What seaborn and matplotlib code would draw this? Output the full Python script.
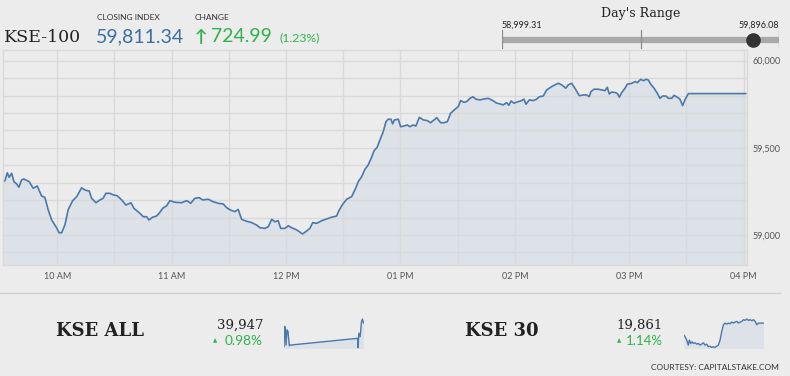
import matplotlib
matplotlib.use("Agg")
import matplotlib.pyplot as plt
import seaborn as sns
import pandas as pd
from matplotlib.ticker import FixedLocator, MultipleLocator, FuncFormatter

# KSE-100 intraday, minutes after 09:00
minutes = [30.8, 32.6, 33.8, 34.8, 36.1, 37.3, 38.7, 39.9, 41.3, 42.5, 45.3, 47.4, 49.5, 51.8, 53.5,
           55.3, 57.1, 59.3, 61.0, 62.3, 64.0, 65.8, 68.1, 70.2, 72.8, 74.5, 76.8, 78.0, 80.3, 82.4,
           84.1, 85.5, 87.6, 89.4, 91.5, 93.8, 96.0, 98.7, 100.2, 103.0, 105.1, 106.9, 108.1, 110.0,
           112.1, 113.5, 115.3, 117.4, 119.1, 121.7, 125.2, 127.9, 130.0, 132.2, 134.5, 136.3, 139.2,
           141.8, 144.4, 147.1, 148.8, 150.9, 153.2, 154.9, 156.7, 159.0, 162.0, 164.6, 166.3, 168.9,
           170.7, 172.5, 174.2, 175.9, 177.2, 179.4, 181.2, 182.9, 185.6, 188.7, 190.8, 192.5, 194.0,
           196.1, 198.7, 201.3, 203.9, 206.5, 207.9, 209.7, 211.8, 214.4, 216.1, 217.9, 219.7, 221.4,
           223.1, 224.9, 226.1, 227.8, 229.6, 231.0, 232.4, 233.6, 235.0, 235.9, 236.8, 238.9, 240.1,
           241.8, 243.6, 245.0, 246.7, 248.1, 249.9, 252.0, 254.1, 255.8, 257.2, 259.0, 261.1, 262.8,
           264.6, 266.3, 268.6, 270.3, 271.6, 273.3, 274.7, 276.5, 277.9, 279.6, 281.7, 283.8, 286.1,
           288.4, 290.5, 292.2, 293.9, 295.7, 296.9, 298.0, 299.5, 301.8, 303.6, 304.8, 305.8, 307.6,
           309.7, 311.4, 312.8, 314.9, 316.7, 319.3, 321.0, 322.8, 324.6, 326.7, 328.0, 329.8, 331.5,
           333.8, 335.9, 337.7, 339.0, 339.9, 341.5, 343.8, 345.5, 347.3, 348.5, 349.5, 350.8, 353.0,
           353.9, 354.8, 356.0, 357.8, 359.0, 361.3, 363.1, 364.3, 366.0, 367.4, 368.8, 370.0, 371.2,
           373.0, 374.7, 376.1, 377.5, 379.3, 380.5, 382.3, 383.5, 385.2, 386.6, 388.0, 389.2, 391.0,
           421.2]
kse100 = [59300, 59312, 59357, 59331, 59354, 59306, 59293, 59274, 59316, 59321, 59306, 59268, 59281,
          59224, 59216, 59143, 59086, 59048, 59013, 59013, 59057, 59147, 59197, 59220, 59271, 59258,
          59252, 59211, 59185, 59201, 59211, 59239, 59239, 59230, 59225, 59201, 59172, 59185, 59153,
          59128, 59105, 59105, 59086, 59102, 59109, 59125, 59153, 59168, 59197, 59188, 59185, 59197,
          59182, 59211, 59214, 59201, 59205, 59191, 59182, 59178, 59157, 59143, 59134, 59147, 59090,
          59080, 59071, 59057, 59042, 59038, 59048, 59090, 59076, 59082, 59038, 59038, 59053, 59042,
          59029, 59006, 59023, 59038, 59071, 59067, 59082, 59092, 59102, 59109, 59143, 59176, 59205,
          59220, 59258, 59306, 59335, 59377, 59402, 59446, 59482, 59503, 59555, 59593, 59650, 59664,
          59664, 59637, 59660, 59664, 59621, 59625, 59631, 59621, 59631, 59625, 59675, 59660, 59656,
          59644, 59656, 59673, 59644, 59644, 59650, 59698, 59721, 59736, 59771, 59761, 59765, 59784,
          59793, 59779, 59775, 59780, 59784, 59771, 59756, 59752, 59746, 59759, 59744, 59769, 59756,
          59765, 59771, 59779, 59750, 59775, 59771, 59779, 59793, 59797, 59832, 59851, 59861, 59870,
          59861, 59842, 59861, 59870, 59842, 59799, 59803, 59803, 59793, 59822, 59836, 59836, 59832,
          59828, 59847, 59809, 59820, 59816, 59809, 59790, 59816, 59842, 59865, 59870, 59880, 59874,
          59893, 59885, 59893, 59889, 59866, 59842, 59813, 59784, 59797, 59797, 59784, 59784, 59801,
          59790, 59779, 59742, 59775, 59811, 59811]

hour_ticks = [60, 120, 180, 240, 300, 360, 420]
hour_labels = ["10 AM", "11 AM", "12 PM", "01 PM", "02 PM", "03 PM", "04 PM"]
price_ticks = [59000, 59500, 60000]

closing = 59811.34
change = 724.99
change_pct = 1.23
day_low = 58999.31
day_high = 59896.08

all_pos = [0, 2, 4, 6, 9, 12, 16, 18, 220, 222, 224, 228, 232, 235, 238]
all_vals = [5, 65, 60, 10, 55, 50, 8, 10, 30, 2, 45, 35, 80, 87, 75]
k30_pos = [0, 4, 8, 13, 16, 20, 24, 28, 33, 38, 43, 48, 53, 58, 63, 68, 73, 78, 83, 88, 93, 98,
           103, 108, 113, 118, 123, 128, 133, 138, 143, 148, 153, 158, 163, 168, 173, 178, 183,
           188, 193, 198, 203, 208, 213, 218, 223, 238]
k30_vals = [40, 33, 25, 10, 25, 15, 20, 15, 17, 13, 15, 10, 13, 17, 10, 13, 5, 7, 3, 5, 3, 7, 10,
            25, 50, 70, 75, 72, 75, 73, 78, 75, 78, 80, 75, 78, 80, 85, 83, 87, 83, 85, 82, 85, 80,
            70, 75, 75]

BG = "#ececec"
GRID = "#d9d9d9"
LINE = "#4a79ab"
FILL = "#dde2e9"
GREEN = "#2fb24c"
DARK = "#222222"

sns.set_theme(style="white", rc={"axes.facecolor": BG, "figure.facecolor": BG})
plt.rcParams["font.family"] = ["Lato", "DejaVu Sans"]
SERIF = ["DejaVu Serif"]

W, H = 790, 376
fig = plt.figure(figsize=(W / 100, H / 100), dpi=100)


def fx(x):
    return x / W


def fy(y):
    return 1 - y / H


def box(x0, y0, x1, y1):
    return [fx(x0), fy(y1), fx(x1) - fx(x0), fy(y0) - fy(y1)]


# main chart
ax = fig.add_axes(box(2.7, 50, 746.7, 265))
df = pd.DataFrame({"t": minutes, "v": kse100})
y_lo, y_hi = 58828, 60061
ax.fill_between(df["t"], df["v"], y_lo, color=FILL, lw=0, zorder=0.3)
sns.lineplot(data=df, x="t", y="v", ax=ax, color=LINE, lw=1.2, zorder=2)
ax.set_xlim(31.4, 421.6)
ax.set_ylim(y_lo, y_hi)
ax.set_xlabel("")
ax.set_ylabel("")
ax.xaxis.set_major_locator(FixedLocator(hour_ticks))
ax.xaxis.set_minor_locator(MultipleLocator(30))
ax.set_xticklabels(hour_labels)
ax.yaxis.tick_right()
ax.yaxis.set_major_locator(FixedLocator(price_ticks))
ax.yaxis.set_minor_locator(MultipleLocator(100))
ax.yaxis.set_major_formatter(FuncFormatter(lambda v, p: f"{v:,.0f}"))
ax.set_axisbelow(True)
ax.grid(True, which="both", color=GRID, lw=1)
ax.tick_params(axis="both", which="both", labelsize=6.5, labelcolor="#555555",
               color=GRID, length=0)
ax.tick_params(axis="x", which="major", pad=5)
ax.tick_params(axis="y", which="major", pad=4)
for s in ax.spines.values():
    s.set_color(GRID)
    s.set_linewidth(1)

# header
fig.text(fx(4), fy(37), "KSE-100", family=SERIF, fontsize=12.5, color=DARK, va="center")
fig.text(fx(97), fy(18), "CLOSING INDEX", fontsize=6, color="#333333", va="center")
fig.text(fx(96), fy(37), f"{closing:,.2f}", fontsize=14, color="#3c6fa6", va="center")
fig.text(fx(195), fy(18), "CHANGE", fontsize=6, color="#333333", va="center")
fig.text(fx(195), fy(37), "\u2191", fontsize=12, color=GREEN, va="center", weight="bold")
fig.text(fx(211), fy(37), f"{change:,.2f}", fontsize=14, color=GREEN, va="center")
fig.text(fx(279), fy(38), f"({change_pct:.2f}%)", fontsize=8.8, color=GREEN, va="center")

# day's range
fig.text(fx(641), fy(14), "Day's Range", family=SERIF, fontsize=9, color=DARK,
         ha="center", va="center")
fig.text(fx(502), fy(25), f"{day_low:,.2f}", fontsize=6.5, color=DARK, va="center")
fig.text(fx(779), fy(25), f"{day_high:,.2f}", fontsize=6.5, color=DARK, va="center", ha="right")
axr = fig.add_axes(box(502, 30, 779, 49))
axr.set_xlim(day_low, day_high)
axr.set_ylim(0, 1)
axr.axis("off")
axr.plot([day_low, day_high], [0.47, 0.47], color="#a9a9a9", lw=4.5, solid_capstyle="butt")
for v in [day_low, (day_low + day_high) / 2, day_high]:
    axr.plot([v, v], [0, 1], color="#8c8c8c", lw=0.9)
axr.plot([closing], [0.47], "o", color="#333333", ms=9.5)

# bottom strip
fig.add_artist(plt.Line2D([0, fx(780)], [fy(293), fy(293)], color="#d0d0d0", lw=1))


def spark(x0, x1, pos, vals):
    a = fig.add_axes(box(x0, 318, x1, 348.5))
    d = pd.DataFrame({"p": pos, "v": vals})
    a.fill_between(d["p"], d["v"], 0, color=FILL, lw=0)
    sns.lineplot(data=d, x="p", y="v", ax=a, color=LINE, lw=1)
    a.set_xlim(0, 238)
    a.set_ylim(0, 90)
    a.axis("off")


fig.text(fx(56), fy(331), "KSE ALL", family=SERIF, fontsize=13, weight="bold", color=DARK,
         va="center")
fig.text(fx(263), fy(325), "39,947", family=SERIF, fontsize=9.5, color=DARK, va="center",
         ha="right")
fig.text(fx(213), fy(341), "\u25b2", fontsize=4, color=GREEN, va="center")
fig.text(fx(263), fy(341), "0.98%", fontsize=9.8, color=GREEN, va="center", ha="right")
spark(284, 363.5, all_pos, all_vals)

fig.text(fx(465), fy(331), "KSE 30", family=SERIF, fontsize=13, weight="bold", color=DARK,
         va="center")
fig.text(fx(663), fy(325), "19,861", family=SERIF, fontsize=9.5, color=DARK, va="center",
         ha="right")
fig.text(fx(617), fy(341), "\u25b2", fontsize=4, color=GREEN, va="center")
fig.text(fx(663), fy(341), "1.14%", fontsize=9.5, color=GREEN, va="center", ha="right")
spark(684, 763.5, k30_pos, k30_vals)

fig.text(fx(779), fy(367), "COURTESY: CAPITALSTAKE.COM", fontsize=6, color="#333333",
         va="center", ha="right")

fig.savefig("out.png", dpi=100, facecolor=BG)
